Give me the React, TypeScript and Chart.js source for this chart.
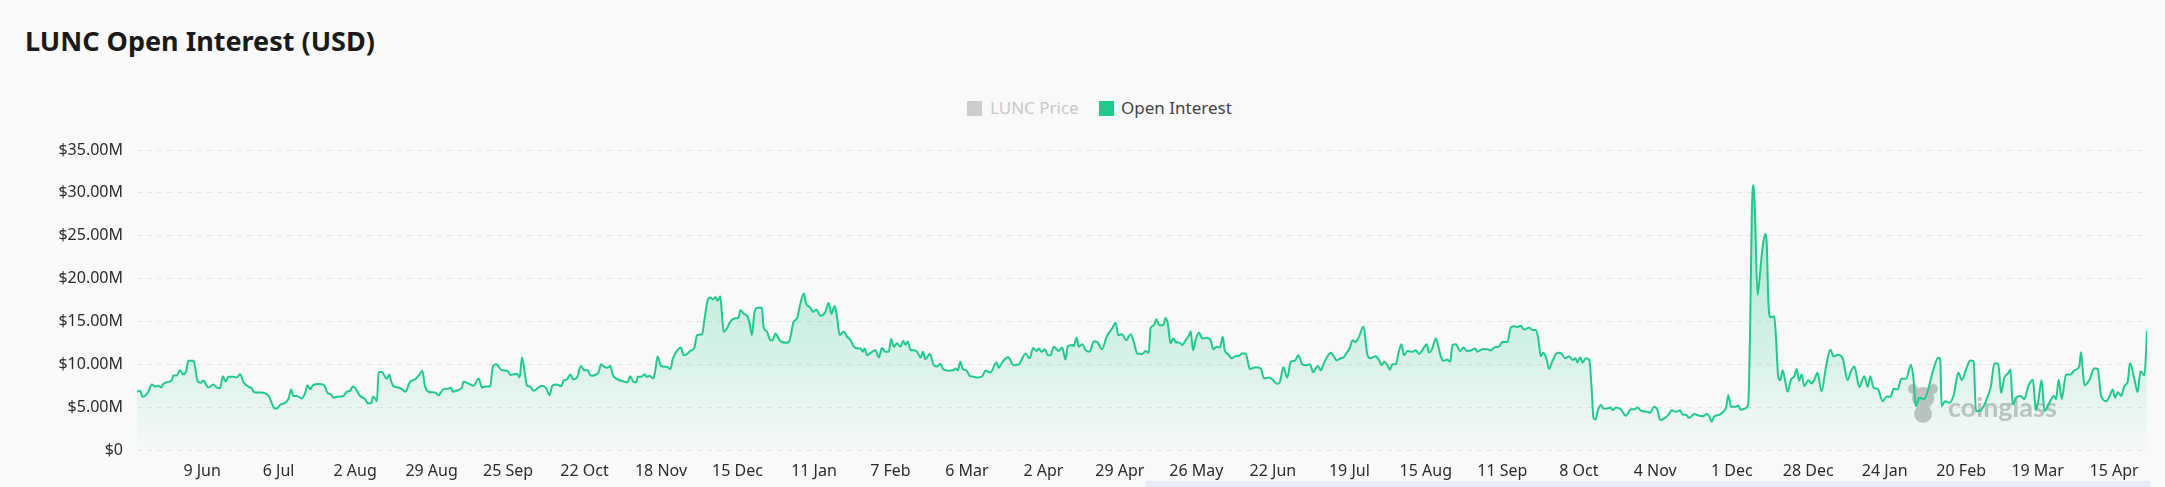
import React, { useEffect, useRef } from 'react';
import { Chart, registerables } from 'chart.js';

Chart.register(...registerables);

const TITLE = 'LUNC Open Interest (USD)';
const SERIES_PRICE = 'LUNC Price';
const SERIES_OI = 'Open Interest';

// x tick positions (days since first data point) and their labels
const TICK_DAYS = [23, 50, 77, 104, 131, 158, 185, 212, 239, 266, 293, 320, 347, 374, 401, 428, 455, 482, 509, 536, 563, 590, 617, 644, 671, 698];
const TICK_LABELS = ['9 Jun', '6 Jul', '2 Aug', '29 Aug', '25 Sep', '22 Oct', '18 Nov', '15 Dec', '11 Jan', '7 Feb', '6 Mar', '2 Apr', '29 Apr', '26 May', '22 Jun', '19 Jul', '15 Aug', '11 Sep', '8 Oct', '4 Nov', '1 Dec', '28 Dec', '24 Jan', '20 Feb', '19 Mar', '15 Apr'];

const Y_MAX = 35;
const Y_STEP = 5;

// open interest readings: day offset and value in USD millions
const DAYS = [
  0, 1.1, 2, 4, 5.2, 6.4, 7.5, 8.5, 9.3, 11.1, 12.3, 12.8, 14, 15.2, 16.1, 17.3, 18.1, 19.9, 20.5, 21.4,
  22.5, 23.4, 25.2, 27, 28.1, 29.3, 30.3, 31.3, 32.3, 34, 35.2, 36.4, 37.6, 39.3, 40.5, 41.3, 44, 45.8, 46.7, 47.6,
  48.4, 49.3, 50.5, 52.3, 53.5, 54.4, 55.2, 56.4, 58.2, 59.3, 60.2, 61.1, 62.1, 64.1, 66.1, 67.2, 68.5, 69.4, 70.5, 72.9,
  74.1, 75.2, 76.2, 77.4, 78.8, 80.5, 81.5, 82.7, 83.3, 84.1, 84.7, 85.3, 86.4, 88.2, 89.1, 89.6, 90.5, 92.3, 93.5, 94.7,
  96.4, 98.2, 99.7, 100.7, 101.7, 102.9, 105.3, 106.4, 108.2, 110, 110.8, 111.4, 113.5, 114.7, 115.3, 117, 118.8, 120.6, 121.8, 122.9,
  124.7, 125.6, 126.8, 128.8, 130.8, 131.8, 134.1, 135.1, 135.9, 137.1, 137.6, 138.8, 140, 142.9, 144.5, 145.6, 146.7, 148.2, 149.8, 150.6,
  151.8, 153, 153.9, 155.3, 156.7, 157.9, 159.1, 160.2, 161.8, 163, 163.8, 165, 166.1, 167.1, 168, 169.7, 172.4, 173.2, 174.1, 175.3,
  176.3, 176.7, 178, 179.2, 180, 181, 182.2, 183, 183.8, 185, 187.1, 188.3, 189.2, 190.6, 192, 193, 194.2, 195.3, 196.8, 197.7,
  199.5, 200.3, 201.5, 202.4, 203.3, 204.2, 205, 205.9, 206.5, 207.1, 208.3, 209.2, 210.9, 212.4, 213, 214.2, 215.6, 216.3, 217.1, 217.9,
  218.9, 220.6, 221.2, 222.4, 223.6, 224.4, 225.4, 226.2, 227.1, 229.3, 230.4, 231.8, 233, 234.2, 235.4, 236.3, 237.5, 238.7, 239.8, 241.3,
  243, 244.2, 245.1, 246.3, 247.1, 248.1, 249.5, 250.7, 251.9, 253, 254.6, 255.4, 256.2, 256.9, 257.7, 259.5, 260.7, 261.9, 263, 264.2,
  265.4, 266.2, 267.2, 268.3, 269.5, 270.5, 271.3, 272.1, 273.1, 274.2, 275.4, 276.6, 277.5, 278.3, 279.9, 281.3, 282.5, 283.6, 284.6, 286.6,
  288.1, 289, 289.8, 290.7, 291.5, 292.8, 294, 295.4, 296.6, 298.4, 299.5, 301.3, 303.4, 304.2, 305.4, 307.5, 309.5, 311.3, 313.7, 315.1,
  316.4, 317.6, 318.4, 319.3, 320.5, 321.6, 322.5, 323.7, 325.4, 326.6, 327.8, 328.6, 330.2, 330.7, 331.7, 332.5, 333.7, 334.9, 336.3, 337.8,
  339, 340.7, 342.3, 344.3, 345.5, 346.4, 347.8, 349.2, 350.8, 351.9, 353.1, 354.9, 356, 357.2, 357.8, 359, 359.9, 360.9, 362.3, 363.1,
  363.9, 364.9, 365.8, 366.7, 368.2, 369, 370.2, 371.4, 372, 372.8, 373.7, 374.9, 376.1, 377.8, 379, 380, 381.1, 382.3, 383.3, 384,
  385.3, 386.4, 387.8, 389, 390.2, 391.4, 392.9, 394.9, 396.7, 397.9, 399.6, 400.8, 402.6, 403.5, 404.7, 406.1, 407.3, 408.7, 410, 411.4,
  412.9, 414.1, 415.2, 416.9, 417.9, 419, 420.5, 421.4, 422.6, 423.5, 424.9, 425.9, 427.1, 428.2, 429.1, 430.2, 431.4, 433, 434.4, 435.5,
  437.3, 438.5, 439.4, 440.3, 441.4, 442.3, 443.2, 444.4, 445.3, 446.4, 447.3, 448.5, 450.3, 451.4, 452.6, 453.8, 455.3, 456.1, 457.3, 458.5,
  459.3, 460.3, 461.4, 462.6, 463.6, 464.4, 465.6, 467.1, 468.3, 469.5, 470.9, 472.4, 473.2, 475, 476.8, 477.9, 479.1, 480.9, 482, 483.8,
  485, 486.2, 487.3, 488.5, 489.7, 491.5, 492.6, 493.8, 494.6, 495.6, 496.5, 497.7, 498.5, 499.7, 501.5, 502.9, 504.1, 505.6, 506.8, 507.9,
  508.5, 509.5, 510.3, 511.5, 512.7, 513.5, 514.2, 515, 515.6, 516.8, 517.7, 519.1, 520.3, 520.9, 522.1, 523.8, 525.6, 527.4, 528.6, 529.7,
  530.9, 533.3, 534.2, 535.6, 536.8, 537.7, 539.2, 540.9, 541.7, 543.3, 544.8, 545.6, 546.8, 548, 549.8, 551.5, 553, 554.2, 555.1, 555.9,
  556.8, 558.6, 559.8, 561, 561.8, 562.7, 564.5, 565.3, 566, 567.4, 568.8, 569.5, 570.1, 570.7, 571.2, 572.1, 573.1, 573.9, 574.8, 575.4,
  575.9, 576.6, 578, 578.6, 579.4, 580.1, 581, 581.8, 582.7, 583.9, 585.1, 585.9, 586.8, 587.7, 588.6, 590, 591.2, 592.1, 593.3, 594.7,
  596.3, 597.8, 599, 600.4, 602.1, 603.9, 605.1, 606.3, 608, 609.8, 611, 611.9, 613.1, 614.5, 616.3, 617.5, 619, 620.2, 621.6, 622.8,
  624.5, 626.3, 627.2, 628, 629.2, 631, 632.8, 634.2, 635.9, 636.6, 637.1, 638.3, 639.8, 641.4, 643, 644.3, 645.7, 647.2, 648.4, 649.2,
  650.4, 651.9, 653.4, 654.5, 655.7, 657.1, 658.1, 659.2, 660.7, 661.4, 662.2, 663.4, 664.9, 666.3, 667.7, 669.3, 670.4, 671.3, 672.4, 673.4,
  675.1, 676.7, 677.5, 678.4, 679.5, 681, 682.6, 684, 685.7, 686.3, 687.5, 689.3, 691, 692.2, 693.4, 695.2, 696.3, 697.5, 698.3, 699.3,
  700.5, 701.6, 702.8, 703.6, 705.2, 706.3, 707.3, 708.7, 709.6,
];

const OI = [
  6.8, 6.9, 6.2, 6.8, 7.65, 7.4, 7.5, 7.3, 7.7, 7.95, 8.15, 8.7, 8.7, 9.3, 8.85, 9.1, 10.4, 10.4, 9.7, 8.0,
  7.85, 8.1, 7.3, 7.65, 7.3, 7.2, 8.6, 8.0, 8.55, 8.55, 8.45, 8.85, 7.9, 7.4, 7.2, 6.75, 6.7, 6.5, 6.2, 5.45,
  4.9, 4.85, 5.25, 5.5, 6.0, 7.05, 6.3, 6.3, 6.0, 6.6, 7.55, 7.1, 7.55, 7.7, 7.55, 6.7, 6.5, 6.1, 6.2, 6.3,
  6.8, 6.9, 7.4, 7.05, 6.3, 5.95, 5.45, 5.45, 6.2, 6.0, 5.7, 9.1, 9.1, 8.3, 8.8, 8.15, 7.45, 7.3, 7.1, 6.8,
  7.95, 8.25, 8.8, 9.25, 7.4, 6.8, 6.7, 6.4, 7.1, 7.15, 7.3, 6.8, 7.0, 7.3, 7.95, 7.75, 7.5, 8.35, 7.3, 7.4,
  7.4, 9.7, 10.0, 9.3, 9.25, 8.75, 8.9, 8.45, 10.8, 8.55, 7.55, 7.4, 6.9, 7.5, 7.2, 6.4, 7.55, 7.65, 7.45, 8.1,
  8.25, 8.8, 8.25, 8.45, 9.8, 9.3, 9.3, 8.65, 8.75, 9.1, 10.0, 9.7, 9.6, 9.8, 8.75, 8.25, 7.95, 7.9, 8.6, 7.95,
  7.9, 8.55, 8.55, 8.8, 8.55, 8.65, 8.35, 9.3, 10.9, 9.8, 9.7, 9.45, 10.7, 11.55, 11.95, 11.05, 11.2, 11.55, 11.95, 13.4,
  13.5, 15.15, 17.5, 17.8, 17.55, 17.85, 17.4, 17.95, 15.9, 13.8, 14.2, 14.85, 15.35, 15.45, 16.3, 15.9, 15.55, 14.75, 13.4, 15.9,
  16.6, 16.6, 14.35, 13.8, 12.8, 12.8, 13.6, 13.2, 12.7, 12.5, 12.8, 14.95, 15.35, 17.1, 18.25, 17.0, 16.7, 16.1, 16.4, 15.65,
  16.1, 17.15, 15.9, 16.8, 15.55, 13.4, 13.8, 13.2, 12.8, 12.1, 11.85, 11.85, 11.45, 11.85, 11.05, 11.45, 11.65, 10.8, 11.9, 11.45,
  11.45, 12.95, 12.05, 12.45, 12.05, 12.75, 12.25, 12.65, 11.65, 11.65, 11.45, 10.8, 11.45, 10.6, 11.2, 9.9, 9.75, 10.05, 9.45, 9.25,
  9.3, 9.5, 9.3, 10.3, 9.45, 9.3, 8.65, 8.55, 8.45, 8.6, 9.25, 9.05, 10.2, 9.6, 10.2, 10.85, 9.9, 10.0, 11.25, 10.7,
  11.9, 11.55, 11.85, 11.45, 11.75, 11.05, 11.05, 12.05, 11.55, 11.95, 10.55, 12.1, 12.25, 12.1, 13.1, 12.05, 12.35, 11.65, 11.45, 12.7,
  12.6, 11.75, 13.2, 14.2, 14.85, 13.4, 13.5, 12.8, 13.5, 12.6, 11.25, 11.2, 11.55, 11.35, 14.2, 14.55, 15.25, 14.55, 14.55, 15.4,
  14.75, 12.45, 13.0, 12.6, 12.5, 12.25, 12.8, 13.4, 13.85, 11.65, 12.8, 13.7, 13.0, 13.1, 12.8, 11.75, 12.05, 11.95, 13.2, 11.65,
  11.15, 10.7, 10.95, 11.0, 11.25, 11.25, 9.45, 9.65, 9.5, 8.35, 8.45, 8.25, 7.7, 7.95, 9.65, 8.45, 10.3, 10.4, 11.05, 10.0,
  9.9, 10.0, 9.1, 9.8, 9.3, 10.1, 11.05, 11.35, 10.9, 10.45, 10.7, 10.8, 11.35, 11.95, 12.8, 12.6, 13.2, 14.4, 11.05, 10.7,
  10.95, 10.5, 9.9, 10.3, 9.9, 9.4, 10.0, 10.0, 11.25, 12.35, 11.05, 11.55, 11.45, 11.65, 11.2, 11.65, 12.35, 11.35, 11.85, 13.0,
  12.25, 10.9, 10.4, 10.55, 10.3, 12.25, 12.35, 11.55, 11.95, 11.55, 11.6, 11.85, 11.45, 11.75, 11.75, 11.6, 11.95, 12.1, 12.6, 12.6,
  14.3, 14.45, 14.35, 14.5, 14.05, 14.3, 14.0, 14.0, 13.2, 10.95, 11.35, 10.5, 9.45, 10.4, 11.35, 11.25, 10.7, 10.9, 10.5, 10.7,
  10.2, 10.8, 10.2, 10.7, 10.5, 7.4, 3.7, 3.55, 4.45, 5.25, 4.85, 4.85, 4.95, 4.65, 4.95, 4.75, 4.0, 4.75, 4.75, 4.95,
  4.6, 4.45, 4.35, 5.05, 4.65, 3.5, 3.7, 4.2, 4.65, 4.45, 4.65, 4.15, 4.1, 3.75, 4.2, 4.0, 3.95, 4.2, 3.9, 3.3,
  3.9, 4.1, 4.4, 4.95, 6.4, 5.05, 5.05, 5.2, 4.7, 4.8, 5.3, 14.4, 28.0, 30.9, 27.6, 18.1, 21.0, 23.7, 25.2, 23.7,
  17.5, 15.5, 15.6, 13.25, 8.6, 8.15, 9.3, 8.2, 6.8, 8.2, 8.6, 9.45, 8.1, 8.8, 7.45, 8.15, 7.75, 8.15, 9.0, 6.85,
  9.75, 11.7, 10.9, 11.1, 10.75, 8.15, 9.2, 9.75, 7.35, 8.6, 7.35, 8.6, 7.25, 7.15, 5.7, 6.2, 6.2, 7.15, 7.05, 8.3,
  8.3, 9.95, 8.2, 5.1, 6.1, 5.95, 7.65, 9.4, 10.75, 10.55, 5.1, 5.7, 5.5, 6.45, 9.0, 8.15, 9.4, 10.45, 10.35, 4.55,
  4.55, 5.1, 6.3, 7.45, 10.1, 10.1, 6.65, 8.4, 9.0, 9.4, 5.3, 6.1, 6.3, 5.95, 7.45, 8.2, 4.65, 5.9, 8.15, 4.55,
  5.5, 6.3, 5.95, 8.2, 5.95, 8.8, 8.8, 9.3, 9.75, 11.4, 7.55, 8.2, 9.55, 9.45, 6.3, 5.7, 6.2, 7.05, 6.1, 6.75,
  6.3, 7.45, 8.0, 10.15, 8.2, 6.75, 9.2, 8.7, 13.85,
];

const GREEN = '#1ec98a';

const watermark = {
  id: 'watermark',
  beforeDatasetsDraw(chart: any) {
    const { ctx, chartArea } = chart;
    const x0 = chartArea.right - 239;
    const y0 = chartArea.bottom - 46;
    ctx.save();
    ctx.fillStyle = '#c2c2c2';
    // mascot
    ctx.beginPath();
    ctx.arc(x0 + 15, y0 - 6, 11, 0, Math.PI * 2);
    ctx.fill();
    ctx.beginPath();
    ctx.arc(x0 + 5, y0 - 15, 5, 0, Math.PI * 2);
    ctx.arc(x0 + 25, y0 - 15, 5, 0, Math.PI * 2);
    ctx.fill();
    ctx.beginPath();
    ctx.ellipse(x0 + 15, y0 + 10, 9, 9, 0, 0, Math.PI * 2);
    ctx.fill();
    // text
    ctx.font = 'bold 27px Lato';
    ctx.textBaseline = 'alphabetic';
    ctx.textAlign = 'left';
    ctx.fillText('coinglass', x0 + 40, y0 + 13);
    ctx.restore();
  },
};

export default function App() {
  const ref = useRef<HTMLCanvasElement | null>(null);

  useEffect(() => {
    if (!ref.current) return;
    const points = DAYS.map((d, i) => ({ x: d, y: OI[i] }));
    const chart = new Chart(ref.current, {
      type: 'line',
      data: {
        datasets: [
          {
            label: SERIES_OI,
            data: points,
            borderColor: GREEN,
            borderWidth: 2,
            pointRadius: 0,
            cubicInterpolationMode: 'monotone',
            fill: 'origin',
            backgroundColor: (c: any) => {
              const area = c.chart.chartArea;
              if (!area) return 'rgba(30,201,138,0.2)';
              const g = c.chart.ctx.createLinearGradient(0, area.top, 0, area.bottom);
              g.addColorStop(0, 'rgba(30,201,138,0.45)');
              g.addColorStop(1, 'rgba(30,201,138,0.01)');
              return g;
            },
          },
        ],
      },
      options: {
        responsive: false,
        animation: false,
        devicePixelRatio: 1,
        layout: { padding: { top: 150, left: 0, right: 18, bottom: 0 } },
        plugins: {
          legend: { display: false },
          title: { display: false },
          tooltip: { enabled: false },
        },
        scales: {
          x: {
            type: 'linear',
            min: DAYS[0],
            max: DAYS[DAYS.length - 1],
            grid: { display: false },
            border: { display: false },
            afterBuildTicks: (axis: any) => {
              axis.ticks = TICK_DAYS.map((v) => ({ value: v }));
            },
            afterFit: (axis: any) => {
              axis.height = 37;
            },
            ticks: {
              autoSkip: false,
              maxRotation: 0,
              minRotation: 0,
              padding: 4,
              color: '#2b2b2b',
              font: { family: 'Noto Sans', size: 16 },
              callback: (_v: any, i: number) => TICK_LABELS[i],
            },
          },
          y: {
            min: 0,
            max: Y_MAX,
            grid: { color: '#e4e4e4', drawTicks: false, lineWidth: 1 },
            border: { display: false, dash: [5, 5] },
            afterFit: (axis: any) => {
              axis.width = 137;
            },
            ticks: {
              stepSize: Y_STEP,
              padding: 14,
              color: '#2b2b2b',
              font: { family: 'Noto Sans', size: 16 },
              callback: (v: any) => (v === 0 ? '$0' : `$${Number(v).toFixed(2)}M`),
            },
          },
        },
      },
      plugins: [watermark],
    });
    return () => chart.destroy();
  }, []);

  return (
    <div style={{ position: 'fixed', left: 0, top: 0, width: 2165, height: 487, background: '#f9f9f9', overflow: 'hidden' }}>
      <div
        style={{
          position: 'absolute',
          left: 25,
          top: 22,
          fontFamily: 'Noto Sans',
          fontWeight: 700,
          fontSize: 27,
          lineHeight: '38px',
          color: '#1a1a1a',
          whiteSpace: 'nowrap',
        }}
      >
        {TITLE}
      </div>
      <div style={{ position: 'absolute', left: 967, top: 101, width: 15, height: 15, background: '#cccccc' }} />
      <div style={{ position: 'absolute', left: 990, top: 98, fontFamily: 'Noto Sans', fontSize: 17, lineHeight: '20px', color: '#c8c8c8', whiteSpace: 'nowrap' }}>
        {SERIES_PRICE}
      </div>
      <div style={{ position: 'absolute', left: 1099, top: 101, width: 15, height: 15, background: GREEN }} />
      <div style={{ position: 'absolute', left: 1121, top: 98, fontFamily: 'Noto Sans', fontSize: 17, lineHeight: '20px', color: '#444', whiteSpace: 'nowrap' }}>
        {SERIES_OI}
      </div>
      <canvas ref={ref} width={2165} height={487} style={{ position: 'absolute', left: 0, top: 0, width: 2165, height: 487 }} />
      <div style={{ position: 'absolute', left: 1146, top: 481, width: 1004, height: 6, background: '#e9ecf8' }} />
    </div>
  );
}
